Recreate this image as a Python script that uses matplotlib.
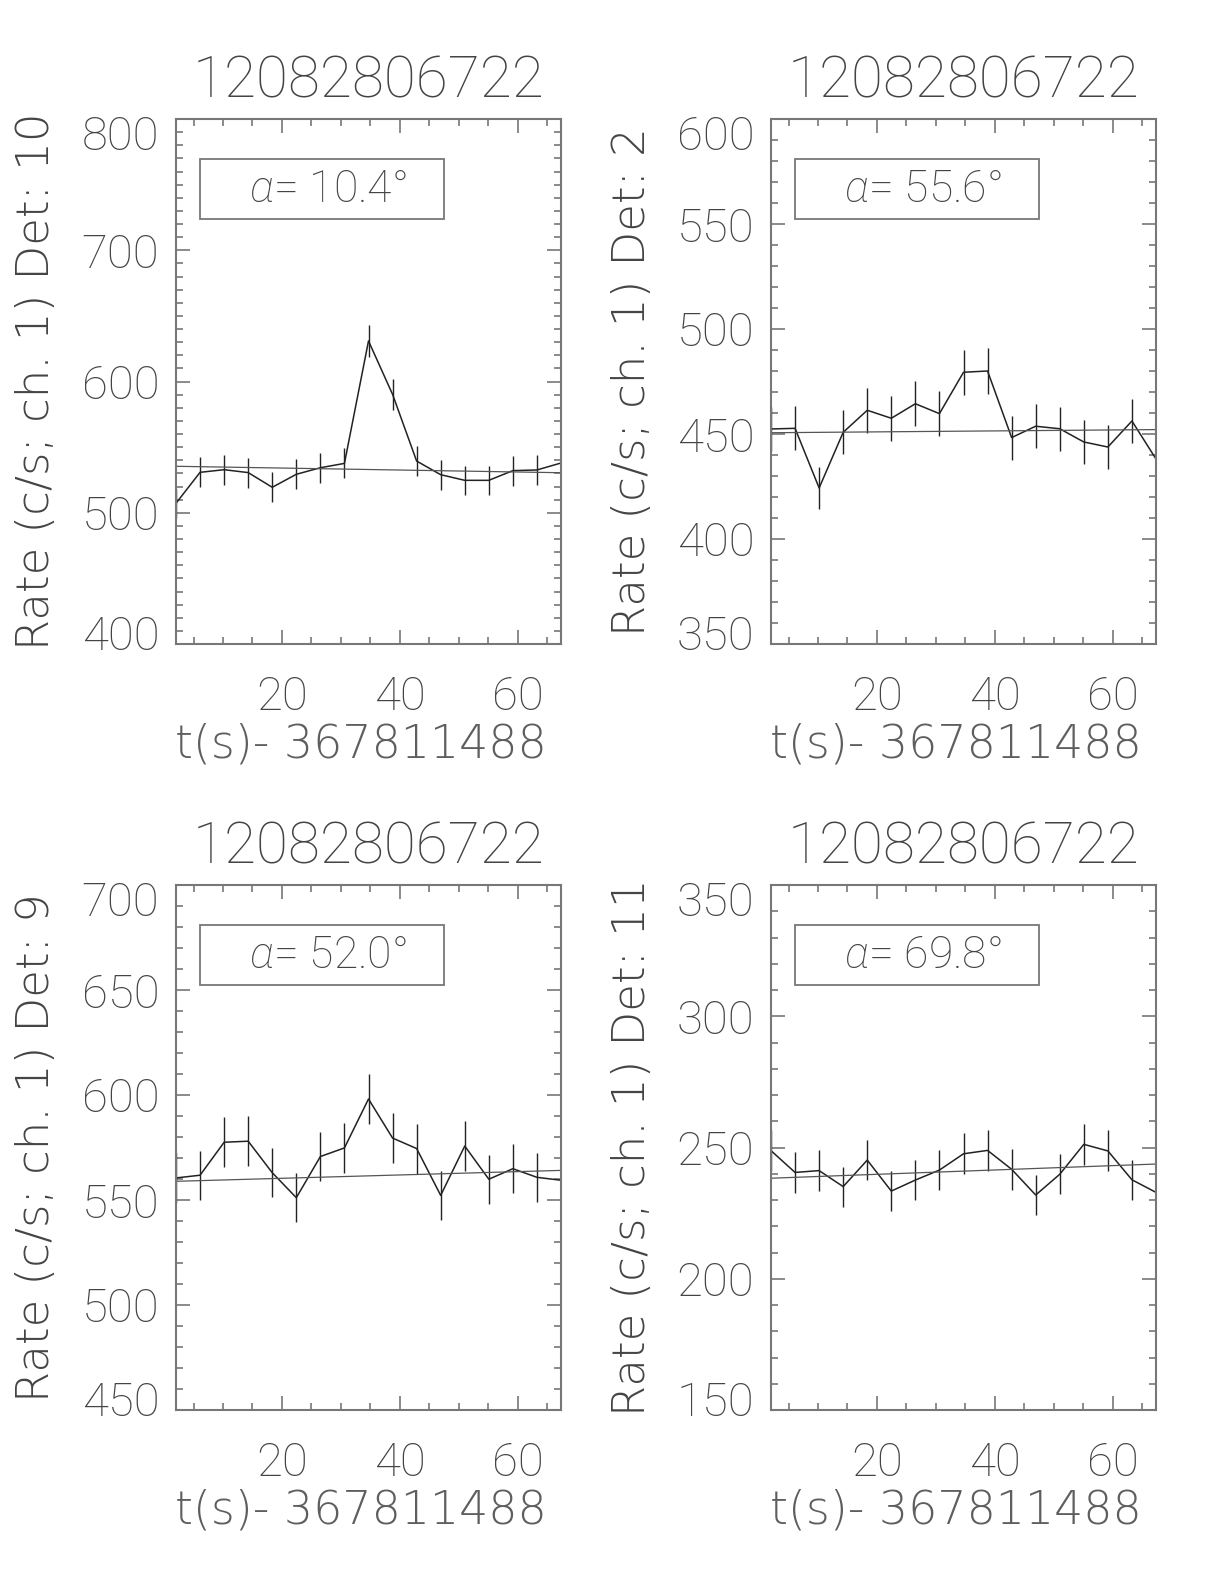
import matplotlib
matplotlib.use('Agg')
import matplotlib.pyplot as plt
import matplotlib.transforms as mtrans
from matplotlib.patches import Rectangle
from matplotlib.ticker import MultipleLocator, FixedLocator
from matplotlib import font_manager

# ---------------- data ----------------
times = [2.03, 6.11, 10.19, 14.27, 18.35, 22.43, 26.51, 30.59, 34.67,
         38.75, 42.83, 46.91, 50.99, 55.07, 59.15, 63.23, 67.31]

titles = ["12082806722", "12082806722", "12082806722", "12082806722"]
detectors = ["10", "2", "9", "11"]
angles = ["10.4", "55.6", "52.0", "69.8"]
xlabel_text = "t(s)- 367811488"

rate_det10 = [507.2, 530.8, 532.8, 530.6, 519.4, 529.3, 534.3, 537.6, 630.9,
              590.2, 539.4, 529.0, 524.7, 524.7, 532.1, 532.6, 537.9]
err_det10 = [11.1, 11.4, 11.4, 11.4, 11.3, 11.4, 11.4, 11.5, 12.4,
             12.0, 11.5, 11.4, 11.3, 11.3, 11.4, 11.4, 11.5]
bg_det10 = [535.4, 530.5]

rate_det2 = [452.4, 452.7, 424.3, 450.8, 461.3, 457.5, 464.4, 459.7, 479.4,
             480.0, 448.3, 453.7, 452.5, 446.2, 443.8, 456.2, 438.1]
err_det2 = [10.5, 10.5, 10.2, 10.5, 10.6, 10.6, 10.7, 10.6, 10.8,
            10.8, 10.5, 10.5, 10.5, 10.5, 10.4, 10.6, 10.4]
bg_det2 = [450.6, 452.1]

rate_det9 = [560.5, 561.8, 577.5, 578.0, 563.0, 551.1, 570.7, 574.8, 598.1,
             579.5, 574.5, 552.2, 575.7, 559.9, 564.9, 560.8, 559.4]
err_det9 = [11.7, 11.7, 11.9, 11.9, 11.7, 11.6, 11.8, 11.9, 12.1,
            11.9, 11.9, 11.6, 11.9, 11.7, 11.8, 11.7, 11.7]
bg_det9 = [558.9, 564.1]

rate_det11 = [248.8, 240.5, 241.2, 235.1, 245.2, 233.4, 237.6, 241.4, 247.6,
              248.9, 241.7, 231.9, 239.8, 251.2, 248.7, 237.7, 232.9]
err_det11 = [7.8, 7.7, 7.7, 7.6, 7.7, 7.6, 7.6, 7.7, 7.8,
             7.8, 7.7, 7.5, 7.7, 7.8, 7.8, 7.6, 7.6]
bg_det11 = [238.3, 243.7]

y_limits = [(400, 800), (350, 600), (450, 700), (150, 350)]
y_major = [100, 50, 50, 50]
y_minor = [10, 10, 10, 10]
x_major_ticks = [20, 40, 60]

rates = [rate_det10, rate_det2, rate_det9, rate_det11]
errs = [err_det10, err_det2, err_det9, err_det11]
bgs = [bg_det10, bg_det2, bg_det9, bg_det11]

# ---------------- style ----------------
fl = font_manager.fontManager.ttflist
names = {f.name for f in fl}


def _w(f):
    try:
        return int(f.weight)
    except (TypeError, ValueError):
        return 400


light_fams = {f.name for f in fl if _w(f) <= 300 and f.style == 'normal'}
FONT = ['Roboto', 'DejaVu Sans'] if 'Roboto' in names else ['DejaVu Sans']
YFONT = FONT
for cand in ['DejaVu Sans', 'Montserrat', 'Work Sans', 'Open Sans', 'Noto Sans',
             'Lato', 'Roboto']:
    if cand in light_fams:
        YFONT = [cand, 'DejaVu Sans']
        break
YWEIGHT = 200 if YFONT[0] == 'DejaVu Sans' else 'light'

plt.rcParams['font.family'] = FONT
plt.rcParams['mathtext.fontset'] = 'custom'
plt.rcParams['mathtext.it'] = 'Roboto:italic:light'
plt.rcParams['mathtext.rm'] = 'Roboto:light'
TXT = '#444444'
TXT2 = '#5e5e5e'
AXC = '#777777'
LINEC = '#222222'
FW = 'light'

W, H = 1224, 1584
fig = plt.figure(figsize=(W / 100, H / 100), dpi=100)
renderer = fig.canvas.get_renderer()

lefts = [176, 771, 176, 771]
tops = [119, 119, 885, 885]
aw, ah = 385, 525


def fit(txt, target, horizontal):
    ext = txt.get_window_extent(renderer)
    size = ext.width if horizontal else ext.height
    fs = txt.get_fontsize() * target / size
    txt.set_fontsize(max(28, min(38, fs)))


for i in range(4):
    l, tp = lefts[i], tops[i]
    ax = fig.add_axes([l / W, 1 - (tp + ah) / H, aw / W, ah / H])
    ax.errorbar(times, rates[i], yerr=errs[i], fmt='none', ecolor=LINEC,
                elinewidth=1.0, capsize=0)
    ax.plot(times, rates[i], color=LINEC, lw=1.1)
    ax.plot([times[0], times[-1]], bgs[i], color='#555555', lw=0.9)
    ax.set_xlim(times[0], times[-1])
    ax.set_ylim(*y_limits[i])
    ax.xaxis.set_major_locator(FixedLocator(x_major_ticks))
    ax.xaxis.set_minor_locator(MultipleLocator(5))
    ax.yaxis.set_major_locator(MultipleLocator(y_major[i]))
    ax.yaxis.set_minor_locator(MultipleLocator(y_minor[i]))
    ax.tick_params(which='both', direction='in', top=True, right=True,
                   color=AXC, width=1.2, labelcolor=TXT, labelsize=34)
    ax.tick_params(which='major', length=10)
    ax.tick_params(which='minor', length=5)
    ax.tick_params(axis='x', pad=22)
    ax.tick_params(axis='y', pad=12)
    fig.canvas.draw()
    for lab in ax.get_xticklabels() + ax.get_yticklabels():
        lab.set_fontweight(FW)
    # IDL keeps the end labels inside the axis range
    locs = ax.yaxis.get_majorticklocs()
    ticks = ax.yaxis.get_major_ticks(len(locs))
    for loc, tk in zip(locs, ticks):
        tk.label1.set_fontweight(FW)
        if abs(loc - y_limits[i][0]) < 1e-6:
            tk.label1.set_transform(tk.label1.get_transform() + mtrans.ScaledTranslation(
                0, 12 / 100, fig.dpi_scale_trans))
        elif abs(loc - y_limits[i][1]) < 1e-6:
            tk.label1.set_transform(tk.label1.get_transform() + mtrans.ScaledTranslation(
                0, -14 / 100, fig.dpi_scale_trans))
    for s in ax.spines.values():
        s.set_color(AXC)
        s.set_linewidth(1.5)

    cx = (l + aw / 2) / W
    fig.text(cx, 1 - (tp - 37) / H, titles[i], ha='center', va='center',
             fontsize=42, color=TXT, fontweight=FW)
    xl = fig.text(cx - 8 / W, 1 - (tp + ah + 100) / H, xlabel_text, ha='center',
                  va='center', fontsize=35, color=TXT2, fontweight=YWEIGHT,
                  family=YFONT)
    fit(xl, 372.0, True)
    yl = fig.text((l - 139) / W, 1 - (tp + ah / 2) / H,
                  "Rate (c/s; ch. 1) Det: " + detectors[i], ha='center',
                  va='center', rotation=90, fontsize=33, color=TXT,
                  fontweight=YWEIGHT, family=YFONT)
    # size the label so that it spans the same length as in the original
    fit(yl, 538.0 if detectors[i] in ("10", "11") else 510.0, False)

    ax.add_patch(Rectangle((0.062, 0.810), 0.634, 0.114, transform=ax.transAxes,
                           fill=False, ec=AXC, lw=1.3))
    ax.text(0.395, 0.865, r"$\alpha$= " + angles[i] + "°", transform=ax.transAxes,
            ha='center', va='center', fontsize=32, color=TXT, fontweight=FW)

fig.savefig('out.png', dpi=100)
